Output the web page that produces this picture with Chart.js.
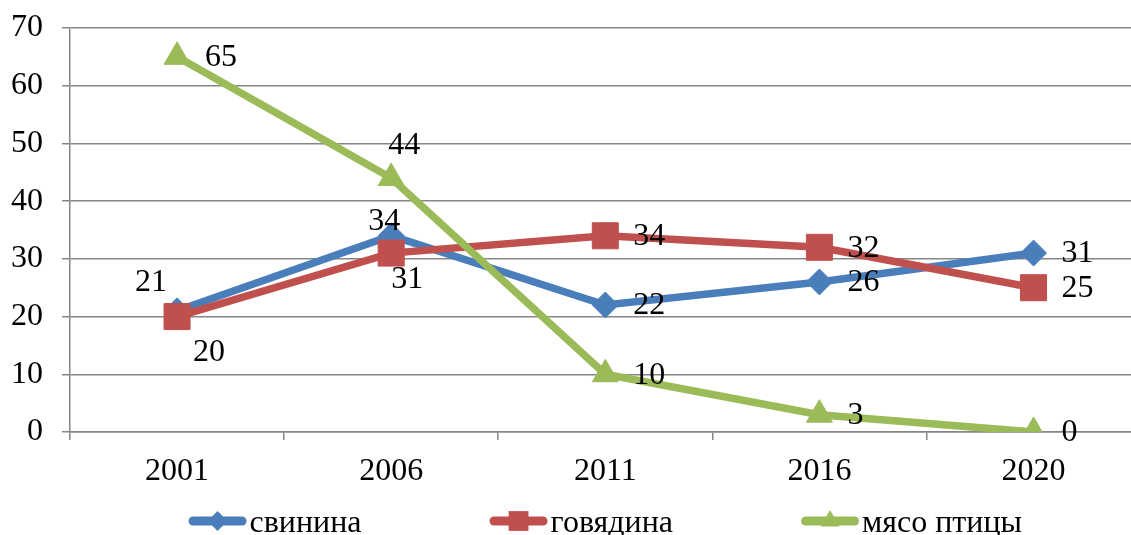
<div id="wrap"><canvas id="myChart" width="1160" height="535"></canvas></div>
<style>
	html, body{ margin:0; padding:0; overflow:hidden; background:#fff; }
	#wrap{ width:1131px; height:535px; overflow:hidden; }
</style>
<script src="https://cdn.jsdelivr.net/npm/chart.js"></script>
<script>
const years = ['2001', '2006', '2011', '2016', '2020']
const pork = [21, 34, 22, 26, 31]
const beef = [20, 31, 34, 32, 25]
const poultry = [65, 44, 10, 3, 0]
const seriesNames = ['свинина', 'говядина', 'мясо птицы']
const yTicks = [0, 10, 20, 30, 40, 50, 60, 70]

const FONT = '32px "Liberation Serif", "Times New Roman", serif'
const colors = ['#4A7EBB', '#C0504D', '#9BBB59']
const gridColor = '#868686'

// label placement: null = right of the point, otherwise shift of text centre
const labelShift = [
	[[-26, -28], [-7, -14], null, null, null],
	[[32, 36], [16, 27], null, null, null],
	[null, [13, -32], null, null, null]
]

function marker(ctx, style, x, y, r){
	ctx.beginPath()
	if(style === 'rectRot'){
		ctx.moveTo(x - r, y); ctx.lineTo(x, y - r); ctx.lineTo(x + r, y); ctx.lineTo(x, y + r)
	} else if(style === 'rect'){
		const s = r * Math.SQRT1_2
		ctx.rect(x - s, y - s, 2 * s, 2 * s)
	} else {
		for(let k = 0; k < 3; k++){
			const a = k * 2 * Math.PI / 3
			const px = x + Math.sin(a) * r, py = y - Math.cos(a) * r
			k === 0 ? ctx.moveTo(px, py) : ctx.lineTo(px, py)
		}
	}
	ctx.closePath()
	ctx.fill()
}

const decor = {
	id: 'decor',
	afterDatasetsDraw(chart){
		const ctx = chart.ctx
		ctx.save()
		ctx.font = FONT
		ctx.fillStyle = '#000'
		ctx.textBaseline = 'middle'
		chart.data.datasets.forEach((ds, i) => {
			chart.getDatasetMeta(i).data.forEach((pt, j) => {
				const sh = labelShift[i][j]
				const txt = String(ds.data[j])
				if(sh){
					ctx.textAlign = 'center'
					ctx.fillText(txt, pt.x + sh[0], pt.y + sh[1])
				} else {
					ctx.textAlign = 'left'
					ctx.fillText(txt, pt.x + 28, pt.y + 1)
				}
			})
		})
		ctx.restore()
	},
	afterDraw(chart){
		const ctx = chart.ctx
		const area = chart.chartArea
		ctx.save()
		ctx.font = FONT
		const lineLen = 58, gap = 3, space = 128
		const widths = seriesNames.map(n => lineLen + gap + ctx.measureText(n).width)
		const total = widths.reduce((a, b) => a + b, 0) + space * (widths.length - 1)
		let x = (area.left + area.right) / 2 - total / 2
		const y = 521
		chart.data.datasets.forEach((ds, i) => {
			ctx.strokeStyle = colors[i]
			ctx.fillStyle = colors[i]
			ctx.lineWidth = 9
			ctx.lineCap = 'round'
			ctx.beginPath()
			ctx.moveTo(x + 4.5, y)
			ctx.lineTo(x + lineLen - 4.5, y)
			ctx.stroke()
			const r = ds.pointStyle === 'rect' ? 14 : (ds.pointStyle === 'triangle' ? 11 : 10)
			marker(ctx, ds.pointStyle, x + lineLen / 2, y, r)
			ctx.fillStyle = '#000'
			ctx.textAlign = 'left'
			ctx.textBaseline = 'alphabetic'
			ctx.fillText(seriesNames[i], x + lineLen + gap, 532)
			x += widths[i] + space
		})
		ctx.restore()
	}
}

const datasets = [
	{ label: seriesNames[0], data: pork, pointStyle: 'rectRot', pointRadius: 13, order: 3 },
	{ label: seriesNames[1], data: beef, pointStyle: 'rect', pointRadius: 18.4, order: 2 },
	{ label: seriesNames[2], data: poultry, pointStyle: 'triangle', pointRadius: 15, order: 1 }
].map((d, i) => Object.assign(d, {
	borderColor: colors[i],
	backgroundColor: colors[i],
	pointBackgroundColor: colors[i],
	pointBorderColor: colors[i],
	pointBorderWidth: 1,
	pointHoverRadius: d.pointRadius,
	borderWidth: 7.5,
	tension: 0
}))

new Chart(document.getElementById('myChart'), {
	type: 'line',
	data: { labels: years, datasets: datasets },
	options: {
		responsive: false,
		animation: false,
		events: [],
		layout: { padding: { top: 28, right: 15, bottom: 0, left: 0 } },
		plugins: { legend: { display: false }, tooltip: { enabled: false } },
		scales: {
			x: {
				offset: true,
				grid: { offset: true, drawOnChartArea: false, color: gridColor, lineWidth: 1.5, tickLength: 8 },
				border: { display: true, color: gridColor, width: 1.5 },
				ticks: { color: '#000', font: { family: '"Liberation Serif", serif', size: 32 }, padding: 12, maxRotation: 0 },
				afterFit(s){ s.height = 103 }
			},
			y: {
				min: 0,
				max: 70,
				afterBuildTicks(s){ s.ticks = yTicks.map(v => ({ value: v })) },
				grid: { color: gridColor, lineWidth: 1.5, tickLength: 8 },
				border: { display: true, color: gridColor, width: 1.5 },
				ticks: { color: '#000', font: { family: '"Liberation Serif", serif', size: 32 }, padding: 19 },
				afterFit(s){ s.width = 70; s.paddingTop = 0; s.paddingBottom = 0 }
			}
		}
	},
	plugins: [decor]
})
</script>
